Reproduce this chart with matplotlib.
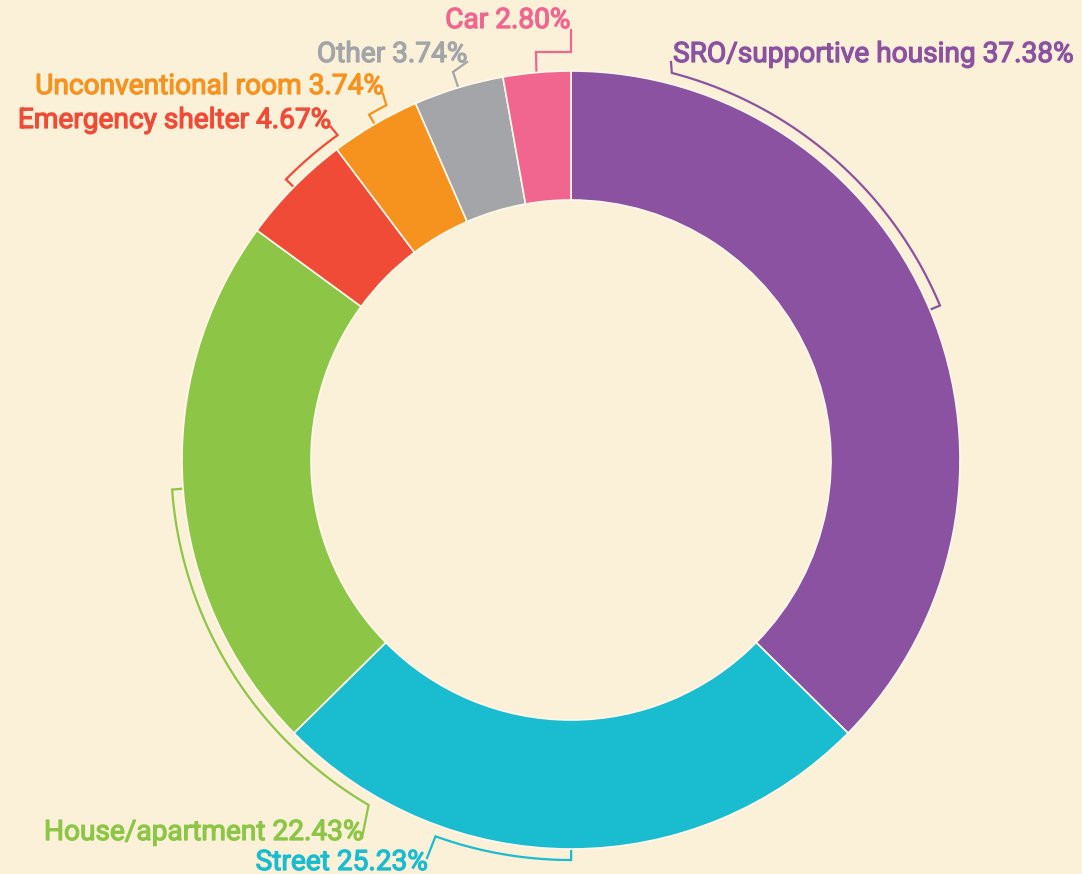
import numpy as np
import matplotlib.pyplot as plt
import matplotlib.patheffects as pe

# housing situation shares (clockwise from 12 o'clock)
labels = ["SRO/supportive housing", "Street", "House/apartment", "Emergency shelter",
          "Unconventional room", "Other", "Car"]
shares = [37.38, 25.23, 22.43, 4.67, 3.74, 3.74, 2.80]
colors = ["#8B52A1", "#1ABCD0", "#8DC647", "#F04B37", "#F6921E", "#A3A5A8", "#F0668E"]

W, H = 1082, 874
cx, cy = 571, H - 460
R = 389
ring = 129

fig = plt.figure(figsize=(W / 100, H / 100), dpi=100)
fig.patch.set_facecolor("#FBF0D8")
ax = fig.add_axes([0, 0, 1, 1])
ax.pie(shares, colors=colors, startangle=90, counterclock=False,
       center=(cx, cy), radius=R,
       wedgeprops=dict(width=ring, edgecolor="#FFF8EA", linewidth=1.2))
ax.set_xlim(0, W)
ax.set_ylim(0, H)
ax.set_aspect("equal")
ax.axis("off")

# bracket layout: arc end angle (deg, clockwise from top), text anchor (px, image y), alignment, extra elbow points
Rb = 400
layout = {
    "SRO/supportive housing": dict(end=14.6, pts=[(671, 62)], txt=(673, 62), ha="left"),
    "Street": dict(end=199.8, pts=[(427, 858)], txt=(427, 870), ha="right"),
    "House/apartment": dict(end=210.4, pts=[(362, 838)], txt=(362, 840), ha="right"),
    "Emergency shelter": dict(end=324.3, pts=[(331, 127)], txt=(330, 128), ha="right"),
    "Unconventional room": dict(end=332.5, pts=[(383, 94)], txt=(383, 94), ha="right"),
    "Other": dict(end=None, pts=[(453, 72), (467, 62)], txt=(467, 62), ha="right"),
    "Car": dict(end=None, pts=[(536, 52), (571, 52), (571, 30)], txt=(570, 28), ha="right"),
}


def polar(theta, r):
    t = np.radians(theta)
    return cx + r * np.sin(t), cy + r * np.cos(t)


cum = np.cumsum([0] + shares)
for i, name in enumerate(labels):
    mid = (cum[i] + cum[i + 1]) / 2 / 100 * 360
    lay = layout[name]
    xs, ys = [], []
    # inward tick at middle of segment
    x0, y0 = polar(mid, R + 2)
    xs.append(x0)
    ys.append(y0)
    if lay["end"] is not None:
        th = np.linspace(mid, lay["end"], 60)
        ax_, ay_ = polar(th, Rb)
        xs += list(ax_)
        ys += list(ay_)
    for px, py in lay["pts"]:
        xs.append(px)
        ys.append(H - py)
    ax.plot(xs, ys, color=colors[i], lw=1.6, solid_joinstyle="miter")
    tx, ty = lay["txt"]
    ax.text(tx, H - ty, f"{name} {shares[i]:.2f}%", color=colors[i],
            ha=lay["ha"], va="baseline", fontsize=20.2, family="Roboto",
            path_effects=[pe.withStroke(linewidth=0.9, foreground=colors[i])])

fig.savefig("out.png", dpi=100, facecolor=fig.get_facecolor())
